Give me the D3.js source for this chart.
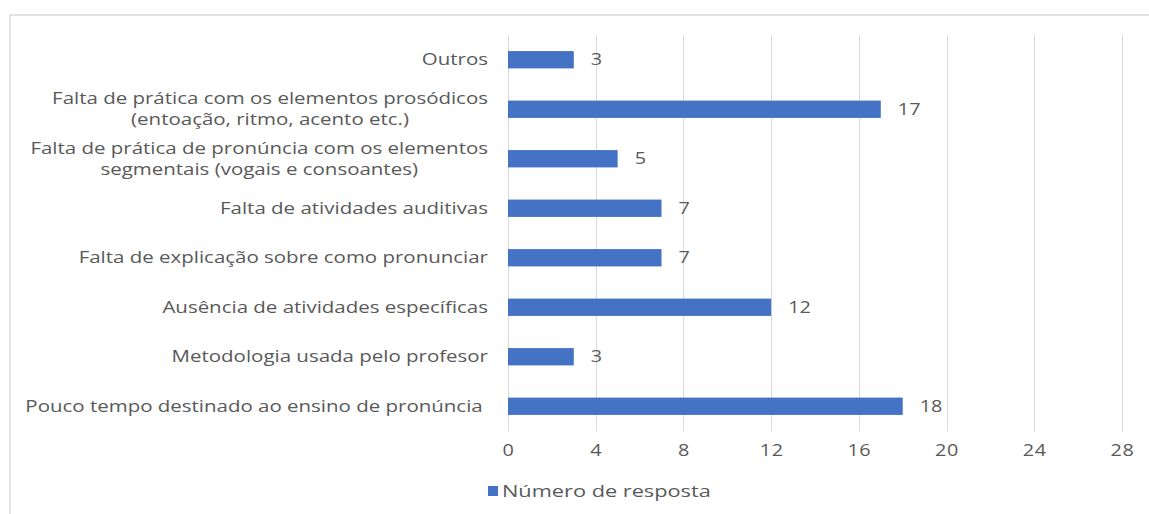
<html>
<head>
    <meta charset="utf-8">
    <title>Número de resposta</title>
    <style>
        body { margin: 0; background: #fff; }
        text { font-family: "Open Sans", "Noto Sans", sans-serif; fill: #595959; }
    </style>
</head>
<body>
<script src="https://cdn.jsdelivr.net/npm/d3@7"></script>
<script>
    // categorias, de cima para baixo
    var categories = [
        "Outros",
        "Falta de prática com os elementos prosódicos\n(entoação, ritmo, acento etc.)",
        "Falta de prática de pronúncia com os elementos\nsegmentais (vogais e consoantes)",
        "Falta de atividades auditivas",
        "Falta de explicação sobre como pronunciar",
        "Ausência de atividades específicas",
        "Metodologia usada pelo profesor",
        "Pouco tempo destinado ao ensino de pronúncia "
    ];
    var values = [3, 17, 5, 7, 7, 12, 3, 18];
    var ticks = [0, 4, 8, 12, 16, 20, 24, 28];
    var seriesName = "Número de resposta";

    var width = 1149, height = 514;
    var plotLeft = 508, plotRight = 1122, plotTop = 35, plotBottom = 431;
    var sx = 1.28; // o texto da imagem é mais largo

    var svg = d3.select("body").append("svg")
            .attr("width", width)
            .attr("height", height);

    // moldura
    svg.append("rect")
            .attr("x", 10).attr("y", 15)
            .attr("width", width + 20).attr("height", height + 20)
            .attr("fill", "none")
            .attr("stroke", "#d9d9d9")
            .attr("stroke-width", 1.5);

    var x = d3.scaleLinear().domain([0, 28]).range([plotLeft, plotRight]);
    var y = d3.scaleBand().domain(d3.range(categories.length))
            .range([plotTop, plotBottom])
            .paddingInner(0.65).paddingOuter(0.325);

    // grade
    svg.append("g").selectAll("line")
            .data(ticks)
            .enter().append("line")
            .attr("x1", function(d){ return Math.round(x(d)) + 0.5; })
            .attr("x2", function(d){ return Math.round(x(d)) + 0.5; })
            .attr("y1", plotTop).attr("y2", plotBottom)
            .attr("stroke", "#d9d9d9");

    // eixo x
    var xAxis = svg.append("g")
            .attr("transform", "translate(0," + (plotBottom + 14) + ")")
            .call(d3.axisBottom(x).tickValues(ticks).tickSize(0).tickPadding(0));
    xAxis.select(".domain").remove();
    xAxis.selectAll("text")
            .attr("dy", "0.71em")
            .attr("transform", "scale(" + sx + ",1)")
            .style("font-size", "15.5px")
            .style("letter-spacing", "0.5px")
            .style("fill", "#595959")
            .style("font-family", "'Open Sans', sans-serif");

    // barras
    svg.append("g").selectAll("rect")
            .data(values)
            .enter().append("rect")
            .attr("x", x(0))
            .attr("y", function(d, i){ return y(i); })
            .attr("width", function(d){ return x(d) - x(0); })
            .attr("height", y.bandwidth())
            .attr("fill", "#4472c4");

    // rótulos de valor
    svg.append("g").selectAll("text")
            .data(values)
            .enter().append("text")
            .attr("transform", function(d, i){
                return "translate(" + (x(d) + 17) + "," + (y(i) + y.bandwidth() / 2) + ") scale(" + sx + ",1)";
            })
            .attr("dy", "0.35em")
            .style("font-size", "15.5px")
            .text(function(d){ return d; });

    // rótulos de categoria
    var labelRight = 488;
    var labels = svg.append("g")
            .attr("transform", "translate(" + labelRight + ",0) scale(" + sx + ",1)")
            .selectAll("text")
            .data(categories)
            .enter().append("text")
            .style("font-size", "16px")
            .style("white-space", "pre");
    labels.each(function(d, i){
        var lines = d.split("\n");
        var t = d3.select(this);
        var cy = y(i) + y.bandwidth() / 2;
        var lh = 21;
        lines.forEach(function(s, k){
            t.append("tspan")
                    .attr("y", cy + (k - (lines.length - 1) / 2) * lh)
                    .attr("dy", "0.35em")
                    .text(s);
        });
        // bloco alinhado à direita, linhas centradas entre si
        var w = 0;
        t.selectAll("tspan").each(function(){ w = Math.max(w, this.getComputedTextLength()); });
        t.attr("text-anchor", "middle");
        t.selectAll("tspan").attr("x", -w / 2);
    });

    // legenda
    svg.append("rect").attr("x", 488).attr("y", 486).attr("width", 10).attr("height", 10).attr("fill", "#4472c4");
    svg.append("text")
            .attr("transform", "translate(502,491) scale(1.36,1)")
            .attr("dy", "0.35em")
            .style("font-size", "16px")
            .text(seriesName);
</script>
</body>
</html>
